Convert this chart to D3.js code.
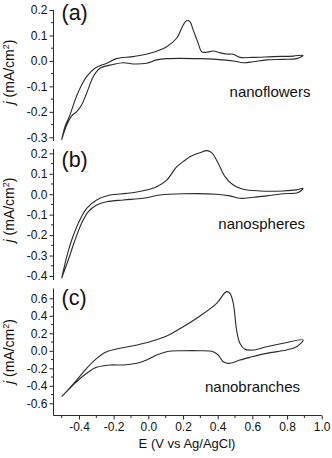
<!DOCTYPE html>
<html><head><meta charset="utf-8">
<script src="https://cdn.jsdelivr.net/npm/d3@7"></script>
<style>
html,body{margin:0;padding:0;background:#fff;}
svg{display:block;font-family:"Liberation Sans",Arial,sans-serif;}
</style></head>
<body>
<svg id="chart" width="332" height="458"></svg>
<script>
// ---- data (E in V vs Ag/AgCl, j in mA/cm^2) ----
const flowersE = [-0.500,-0.481,-0.452,-0.423,-0.394,-0.356,-0.308,-0.240,-0.183,-0.087,0.009,0.106,0.163,0.201,0.221,0.240,0.259,0.288,0.307,0.336,0.374,0.413,0.451,0.490,0.528,0.605,0.720,0.836,0.893,
  0.855,0.778,0.682,0.605,0.547,0.490,0.394,0.298,0.106,0.048,-0.010,-0.087,-0.145,-0.202,-0.279,-0.318,-0.356,-0.385,-0.413,-0.442,-0.471,-0.500];
const flowersJ = [-0.310,-0.258,-0.212,-0.154,-0.107,-0.062,-0.029,-0.009,0.009,0.017,0.030,0.056,0.089,0.141,0.158,0.154,0.121,0.069,0.036,0.034,0.039,0.032,0.027,0.026,0.014,0.014,0.017,0.019,0.022,
  0.009,0.006,0.004,-0.003,-0.007,0.000,0.006,0.009,0.009,0.004,-0.009,-0.012,-0.007,-0.014,-0.029,-0.062,-0.127,-0.173,-0.199,-0.216,-0.252,-0.310];

const spheresE = [-0.500,-0.471,-0.442,-0.404,-0.356,-0.298,-0.221,-0.125,-0.029,0.048,0.106,0.163,0.201,0.240,0.298,0.336,0.365,0.403,0.442,0.490,0.547,0.644,0.778,0.855,0.893,
  0.864,0.778,0.682,0.605,0.528,0.471,0.394,0.201,0.067,-0.029,-0.145,-0.240,-0.298,-0.347,-0.385,-0.423,-0.462,-0.490,-0.500];
const spheresJ = [-0.411,-0.306,-0.224,-0.142,-0.069,-0.028,-0.004,0.004,0.017,0.037,0.069,0.134,0.159,0.183,0.203,0.213,0.203,0.151,0.086,0.045,0.024,0.016,0.016,0.021,0.029,
  0.008,0.002,-0.008,-0.015,-0.020,-0.008,0.000,0.002,-0.004,-0.020,-0.028,-0.037,-0.053,-0.086,-0.142,-0.224,-0.322,-0.387,-0.411];

const branchesE = [-0.500,-0.413,-0.356,-0.298,-0.240,-0.164,-0.087,0.009,0.106,0.201,0.298,0.394,0.451,0.471,0.490,0.509,0.528,0.557,0.605,0.682,0.778,0.893,
  0.855,0.797,0.682,0.586,0.528,0.471,0.432,0.403,0.374,0.298,0.201,0.106,0.048,-0.010,-0.067,-0.145,-0.221,-0.298,-0.356,-0.413,-0.500];
const branchesJ = [-0.525,-0.334,-0.200,-0.086,-0.010,0.029,0.058,0.104,0.169,0.275,0.398,0.543,0.676,0.657,0.543,0.238,0.086,0.017,0.009,0.047,0.086,0.124,
  0.047,0.009,-0.029,-0.075,-0.106,-0.143,-0.125,-0.048,-0.010,0.001,0.001,-0.010,-0.048,-0.106,-0.143,-0.162,-0.162,-0.189,-0.257,-0.353,-0.525];

const xTicks = [-0.4,-0.2,0.0,0.2,0.4,0.6,0.8,1.0];
const yTicksA = [0.2,0.1,0.0,-0.1,-0.2,-0.3];
const yTicksB = [0.2,0.1,0.0,-0.1,-0.2,-0.3,-0.4];
const yTicksC = [0.6,0.4,0.2,0.0,-0.2,-0.4,-0.6];
const panelLabels = ["(a)","(b)","(c)"];
const sampleNames = ["nanoflowers","nanospheres","nanobranches"];
const xTitle = "E (V vs Ag/AgCl)";

// ---- layout ----
const svg = d3.select("#chart");
const axisX0 = 53.5;
const x = d3.scaleLinear().domain([-0.4, 1.0]).range([79, 321.7]);

const panels = [
  {E: flowersE, J: flowersJ, ticks: yTicksA, y: d3.scaleLinear().domain([-0.3,0.2]).range([137.3,10]),
   minor: 0.05, top: 10, bottom: 141, lab: panelLabels[0], labY: 19.5, name: sampleNames[0], nameX: 270, nameY: 97, titleY: 72},
  {E: spheresE, J: spheresJ, ticks: yTicksB, y: d3.scaleLinear().domain([-0.4,0.2]).range([276,153.3]),
   minor: 0.05, top: 149, bottom: 280, lab: panelLabels[1], labY: 166.5, name: sampleNames[1], nameX: 261.7, nameY: 228.5, titleY: 210},
  {E: branchesE, J: branchesJ, ticks: yTicksC, y: d3.scaleLinear().domain([-0.6,0.6]).range([403.3,298.3]),
   minor: 0.1, top: 288.5, bottom: 415.5, lab: panelLabels[2], labY: 305, name: sampleNames[2], nameX: 252.5, nameY: 391.5, titleY: 351.5}
];

const fmt = d3.format(".1f");
const stroke = "#2a2a2a";

panels.forEach(p => {
  const g = svg.append("g");
  g.append("line").attr("x1", axisX0).attr("x2", axisX0).attr("y1", p.top).attr("y2", p.bottom)
    .attr("stroke", stroke).attr("stroke-width", 1);
  const yAxis = d3.axisLeft(p.y).tickValues(p.ticks).tickSize(4).tickPadding(2).tickFormat(fmt);
  const ag = g.append("g").attr("transform", `translate(${axisX0},0)`).call(yAxis);
  ag.select(".domain").remove();
  ag.selectAll(".tick line").attr("stroke", stroke);
  ag.selectAll(".tick text").attr("font-size", 12).attr("fill", "#111")
    .attr("font-family", "Liberation Sans, Arial, sans-serif").text(d => fmt(d).replace("−","-"));
  const mins = p.ticks.slice(0, -1).map(t => t - p.minor);
  g.selectAll("line.minor").data(mins).enter().append("line")
    .attr("x1", axisX0 - 2.5).attr("x2", axisX0).attr("y1", d => p.y(d)).attr("y2", d => p.y(d))
    .attr("stroke", stroke).attr("stroke-width", 1);
  const pts = p.E.map((e, i) => [e, p.J[i]]);
  g.append("path").datum(pts)
    .attr("d", d3.line().x(d => x(d[0])).y(d => p.y(d[1])).curve(d3.curveCatmullRom.alpha(0.5)))
    .attr("fill", "none").attr("stroke", stroke).attr("stroke-width", 1.1);
  g.append("text").attr("x", 61.5).attr("y", p.labY).attr("font-size", 21.5).attr("fill", "#111").text(p.lab);
  g.append("text").attr("x", p.nameX).attr("y", p.nameY).attr("text-anchor", "middle")
    .attr("font-size", 15).attr("fill", "#111").text(p.name);
  const t = g.append("text").attr("transform", `translate(13.5,${p.titleY}) rotate(-90)`)
    .attr("text-anchor", "middle").attr("font-size", 14).attr("fill", "#111");
  t.append("tspan").attr("font-style", "italic").text("j");
  t.append("tspan").text(" (mA/cm");
  t.append("tspan").attr("dy", -5).attr("font-size", 9).text("2");
  t.append("tspan").attr("dy", 5).text(")");
});

const xAxisY = 415.5;
svg.append("line").attr("x1", axisX0).attr("x2", x(1.0)).attr("y1", xAxisY).attr("y2", xAxisY)
  .attr("stroke", stroke).attr("stroke-width", 1);
const xg = svg.append("g").attr("transform", `translate(0,${xAxisY})`)
  .call(d3.axisBottom(x).tickValues(xTicks).tickSize(4).tickPadding(3).tickFormat(fmt));
xg.select(".domain").remove();
xg.selectAll(".tick line").attr("stroke", stroke);
xg.selectAll(".tick text").attr("font-size", 12).attr("fill", "#111")
  .attr("font-family", "Liberation Sans, Arial, sans-serif").text(d => fmt(d).replace("−","-"));
const xMinor = [-0.5,-0.3,-0.1,0.1,0.3,0.5,0.7,0.9];
svg.selectAll("line.xminor").data(xMinor).enter().append("line")
  .attr("x1", d => x(d)).attr("x2", d => x(d)).attr("y1", xAxisY).attr("y2", xAxisY + 2.5)
  .attr("stroke", stroke).attr("stroke-width", 1);
svg.append("text").attr("x", 187).attr("y", 448).attr("text-anchor", "middle")
  .attr("font-size", 13).attr("fill", "#111").text(xTitle);
</script>
</body></html>
